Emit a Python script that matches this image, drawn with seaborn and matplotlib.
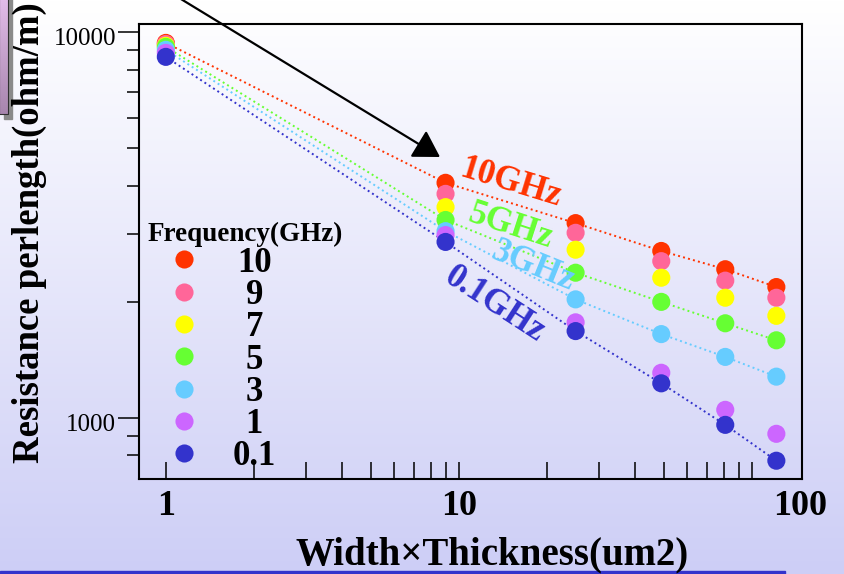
import numpy as np
import pandas as pd
import matplotlib.pyplot as plt
import matplotlib.ticker as mticker
from matplotlib.colors import LinearSegmentedColormap
from matplotlib.patches import Rectangle
from matplotlib.transforms import ScaledTranslation
import seaborn as sns

sns.set_style("ticks")
plt.rcParams["font.family"] = ["Liberation Serif", "DejaVu Serif"]
plt.rcParams["text.color"] = "black"
plt.rcParams["axes.labelcolor"] = "black"

# cross-section area (width x thickness, um2)
area = [1, 9, 25, 49, 81, 121]

# resistance per length (ohm/m) for each frequency
r_10 = [9380, 4070, 3200, 2710, 2430, 2185]
r_9 = [9320, 3810, 3020, 2550, 2270, 2050]
r_7 = [9220, 3520, 2730, 2310, 2050, 1840]
r_5 = [9160, 3260, 2380, 2000, 1760, 1590]
r_3 = [9000, 3050, 2030, 1650, 1440, 1280]
r_1 = [8840, 2980, 1770, 1310, 1050, 910]
r_01 = [8630, 2860, 1680, 1230, 960, 775]

freqs = ["10", "9", "7", "5", "3", "1", "0.1"]
colors = ["#ff3300", "#ff6699", "#ffff00", "#66ff33", "#66ccff", "#cc66ff", "#3333cc"]
line_freqs = ["10", "5", "3", "0.1"]  # series joined by dotted lines
line_labels = ["10GHz", "5GHz", "3GHz", "0.1GHz"]

x_ticks = [1, 10, 100]
x_minor = [k * d for d in (1, 10) for k in range(2, 10)]
y_ticks = [1000, 10000]
y_minor = [800, 900] + [k * 1000 for k in range(2, 10)]

rows = []
for f, vals in zip(freqs, [r_10, r_9, r_7, r_5, r_3, r_1, r_01]):
    for a, v in zip(area, vals):
        rows.append({"area": a, "res": v, "freq": f})
df = pd.DataFrame(rows)
palette = dict(zip(freqs, colors))

W, H = 845, 574
fig = plt.figure(figsize=(W / 100, H / 100), dpi=100)

# slide background: white to lavender
bg = fig.add_axes([0, 0, 1, 1], zorder=-10)
bg_cmap = LinearSegmentedColormap.from_list("bg", ["#ffffff", "#cdcef6"])
bg.imshow(np.linspace(0, 1, 256)[:, None], aspect="auto", cmap=bg_cmap, extent=[0, W, H, 0],
          zorder=0)
# piece of another slide object in the top-left corner (shadow, gradient fill, border)
bg.add_patch(Rectangle((4, -2), 8, 121, color="#8a8a8a", zorder=1))
box_cmap = LinearSegmentedColormap.from_list("box", ["#e2bce9", "#a886ae"])
bg.imshow(np.linspace(0, 1, 64)[:, None], aspect="auto", cmap=box_cmap, extent=[0, 8.5, 114, -2],
          zorder=2)
bg.add_patch(Rectangle((-1, -2), 9.5, 116, fill=False, edgecolor="#303030", lw=0.8, zorder=3))
bg.add_patch(Rectangle((0, 571), 785, 3, color="#3333cc", zorder=1))
bg.set_xlim(0, W)
bg.set_ylim(H, 0)
bg.axis("off")

ax = fig.add_axes([139 / W, 1 - 478.5 / H, (802 - 139) / W, (478.5 - 24) / H])
ax.set_facecolor("none")

sns.lineplot(data=df[df["freq"].isin(line_freqs)], x="area", y="res", hue="freq",
             hue_order=line_freqs, palette=palette, linestyle=":", lw=1.4,
             legend=False, ax=ax, zorder=2)
sns.scatterplot(data=df, x="area", y="res", hue="freq", hue_order=freqs, palette=palette,
                s=170, edgecolor="none", linewidth=0, ax=ax, zorder=3)

ax.set_xscale("log")
ax.set_yscale("log")
ax.set_xlim(0.81, 148)
ax.set_ylim(697, 10500)

ax.xaxis.set_major_locator(mticker.FixedLocator(x_ticks))
ax.xaxis.set_minor_locator(mticker.FixedLocator(x_minor))
ax.xaxis.set_major_formatter(mticker.FuncFormatter(lambda v, p: f"{v:g}"))
ax.xaxis.set_minor_formatter(mticker.NullFormatter())
ax.yaxis.set_major_locator(mticker.FixedLocator(y_ticks))
ax.yaxis.set_minor_locator(mticker.FixedLocator(y_minor))
ax.yaxis.set_major_formatter(mticker.FuncFormatter(lambda v, p: f"{v:g}"))
ax.yaxis.set_minor_formatter(mticker.NullFormatter())

ax.tick_params(axis="x", which="both", direction="in", length=12, width=1.1,
               bottom=True, top=False, pad=8, labelsize=26, colors="black")
ax.tick_params(axis="y", which="major", direction="out", length=15, width=1.1,
               left=True, right=False, pad=1.5, labelsize=18, colors="black")
ax.tick_params(axis="y", which="minor", direction="out", length=8.6, width=1.1,
               left=True, right=False, colors="black")
for lbl in ax.get_xticklabels():
    lbl.set_fontweight("bold")
for sp in ax.spines.values():
    sp.set_visible(True)
    sp.set_linewidth(1.5)
    sp.set_color("black")

ax.set_xlabel("Width×Thickness(um2)", fontsize=28, fontweight="bold", color="black")
ax.xaxis.set_label_coords(0.532, -0.168)
ax.xaxis.label.set_va("center")
ax.set_ylabel("Resistance perlength(ohm/m)", fontsize=26.5, fontweight="bold", color="black")
ax.yaxis.set_label_coords(-0.166, 0.542)
ax.yaxis.label.set_va("center")

# frequency labels beside the dotted lines
label_pos = [(0.561, 0.650, -17), (0.560, 0.554, -18), (0.594, 0.466, -22), (0.537, 0.382, -33)]
for f, txt, (lx, ly, rot) in zip(line_freqs, line_labels, label_pos):
    ax.text(lx, ly, txt, transform=ax.transAxes, color=palette[f], fontsize=25,
            fontweight="bold", rotation=rot, rotation_mode="anchor", ha="center", va="center")

# arrow coming from outside the chart
ax.annotate("", xy=(440, H - 157), xycoords="figure pixels", xytext=(176, H + 4),
            textcoords="figure pixels", annotation_clip=False,
            arrowprops=dict(arrowstyle="-|>,head_length=1.0,head_width=0.6", mutation_scale=16,
                            color="black", lw=1.6, shrinkA=0, shrinkB=0))

old = ax.get_legend()
handles = old.legend_handles
labels = [t.get_text() for t in old.get_texts()]
old.remove()
leg = ax.legend(handles, labels, title="Frequency(GHz)", loc="upper left",
                bbox_to_anchor=(0.0136, 0.564), frameon=False, borderpad=0, borderaxespad=0,
                handlelength=2.07, handletextpad=0.37, labelspacing=-0.02, alignment="left",
                prop={"weight": "bold", "size": 25},
                title_fontproperties={"weight": "bold", "size": 19.5})
leg.get_title().set_color("black")
for t in leg.get_texts():
    t.set_color("black")

fig.canvas.draw()
rend = fig.canvas.get_renderer()
# centre the legend numbers in their column
texts = leg.get_texts()
widths = [t.get_window_extent(rend).width for t in texts]
for t, w in zip(texts, widths):
    t.set_x((max(widths) - w) / 2)
# the "100" label sits at the right edge in the original slide
for lbl in ax.get_xticklabels():
    if lbl.get_text() == "100":
        lbl.set_transform(lbl.get_transform() + ScaledTranslation(0.48, 0, fig.dpi_scale_trans))
# y labels sit a little below their ticks in the original
for lbl in ax.get_yticklabels():
    lbl.set_transform(lbl.get_transform() + ScaledTranslation(0, -0.045, fig.dpi_scale_trans))

fig.savefig("out.png", dpi=100)
